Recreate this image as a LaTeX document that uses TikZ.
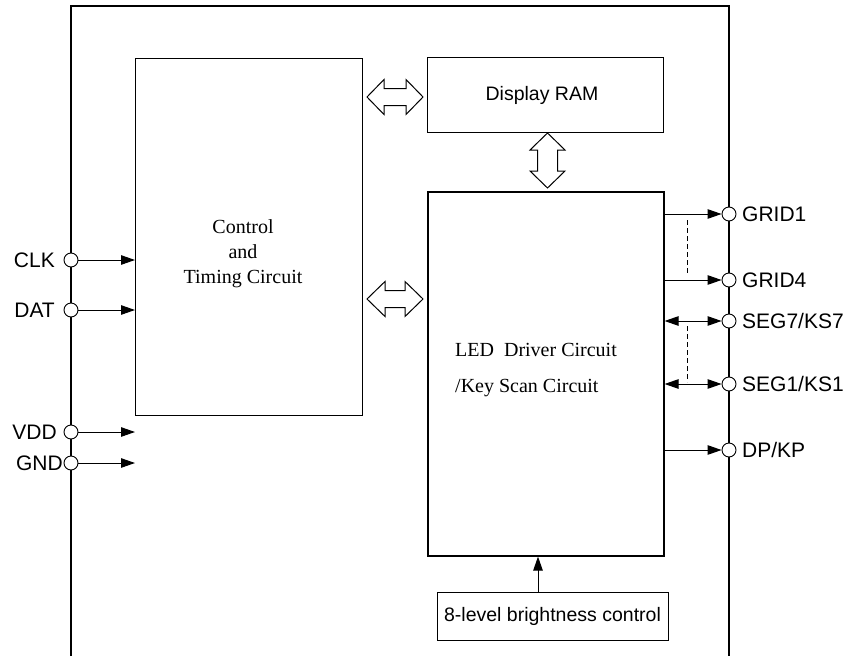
\documentclass[tikz,border=0pt]{standalone}
\usepackage{fontspec}
\newfontfamily\sansf{Liberation Sans}
\newfontfamily\seriff{Liberation Serif}
\usetikzlibrary{arrows.meta}
\tikzset{
  blockbox/.style={draw, line width=1pt, inner sep=0pt, anchor=north west},
  sig/.style={line width=1pt, -{Triangle[length=14pt,width=9.5pt]}},
  sigboth/.style={line width=1pt, {Triangle[length=14pt,width=9.5pt]}-{Triangle[length=14pt,width=9.5pt]}},
  pincirc/.style={circle, draw, fill=white, line width=0.9pt, minimum size=14pt, inner sep=0pt},
  pinlabel/.style={inner sep=0pt, font=\sansf\fontsize{21}{24}\selectfont},
  boxlabel/.style={inner sep=0pt, font=\sansf\fontsize{19.5}{22}\selectfont},
  serifl/.style={inner sep=0pt, font=\seriff\fontsize{20}{25}\selectfont},
  hollow/.style={draw, line width=1pt, fill=white, line join=miter},
  dashline/.style={line width=1pt, dash pattern=on 5pt off 3pt}
}
\begin{document}
\begin{tikzpicture}[x=1pt,y=-1pt]
\useasboundingbox (0,0) rectangle (851,656);
% chip frame
\draw[line width=1.2pt] (71,656) -- (71,6) -- (729,6) -- (729,656);
% blocks
\node[blockbox, minimum width=227pt, minimum height=357pt] (ctl) at (135,58) {};
\node[serifl, align=center] (ctltxt) at (243,254) {Control\\ and\\ Timing Circuit};
\node[blockbox, minimum width=236pt, minimum height=75pt] (ram) at (427,57) {};
\node[boxlabel] (ramtxt) at (542,95) {Display RAM};
\node[blockbox, line width=1.6pt, minimum width=236pt, minimum height=364pt] (led) at (427,191) {};
\node[serifl, anchor=base west] (ledtxt1) at (455,356) {LED\ \ Driver Circuit};
\node[serifl, anchor=base west] (ledtxt2) at (455,392) {/Key Scan Circuit};
\node[blockbox, minimum width=231pt, minimum height=48pt] (bri) at (437,592) {};
\node[boxlabel] (britxt) at (552.5,616) {8-level brightness control};
\draw[sig] (bri.north -| 538,0) -- (led.south -| 538,0);
% hollow double arrows
\begin{scope}[shift={(395,97)}]
\draw[hollow] (-28,0) -- (-11,-17.5) -- (-11,-8.5) -- (11,-8.5) -- (11,-17.5) -- (28,0) -- (11,17.5) -- (11,8.5) -- (-11,8.5) -- (-11,17.5) -- cycle;
\end{scope}
\begin{scope}[shift={(395,299)}]
\draw[hollow] (-28,0) -- (-10,-17.5) -- (-10,-8.5) -- (10,-8.5) -- (10,-17.5) -- (28,0) -- (10,17.5) -- (10,8.5) -- (-10,8.5) -- (-10,17.5) -- cycle;
\end{scope}
\begin{scope}[shift={(547.5,160.5)}]
\draw[hollow] (0,-27.5) -- (-17.5,-10.5) -- (-10,-10.5) -- (-10,10.5) -- (-17.5,10.5) -- (0,27.5) -- (17.5,10.5) -- (10,10.5) -- (10,-10.5) -- (17.5,-10.5) -- cycle;
\end{scope}
% left pins
\node[pincirc] (clk) at (71,260) {};
\node[pincirc] (dat) at (71,310) {};
\node[pincirc] (vdd) at (71,432) {};
\node[pincirc] (gnd) at (71,463) {};
\node[pinlabel, anchor=east] (clkl) at (55,260) {CLK};
\node[pinlabel, anchor=east] (datl) at (55,310) {DAT};
\node[pinlabel, anchor=east] (vddl) at (57,432) {VDD};
\node[pinlabel, anchor=east] (gndl) at (63,463) {GND};
\draw[sig] (clk) -- (ctl.west |- clk);
\draw[sig] (dat) -- (ctl.west |- dat);
\coordinate (vddend) at (135,432);
\coordinate (gndend) at (135,463);
\draw[sig] (vdd) -- (vddend);
\draw[sig] (gnd) -- (gndend);
% right pins
\node[pincirc] (g1) at (729,214) {};
\node[pincirc] (g4) at (729,280) {};
\node[pincirc] (s7) at (729,321) {};
\node[pincirc] (s1) at (729,384) {};
\node[pincirc] (dp) at (729,450) {};
\draw[sig] (led.east |- g1) -- (g1);
\draw[sig] (led.east |- g4) -- (g4);
\draw[sigboth] (led.east |- s7) -- (s7);
\draw[sigboth] (led.east |- s1) -- (s1);
\draw[sig] (led.east |- dp) -- (dp);
\node[pinlabel, anchor=west] (g1l) at (742,214) {GRID1};
\node[pinlabel, anchor=west] (g4l) at (742,280) {GRID4};
\node[pinlabel, anchor=west] (s7l) at (742,321) {SEG7/KS7};
\node[pinlabel, anchor=west] (s1l) at (742,384) {SEG1/KS1};
\node[pinlabel, anchor=west] (dpl) at (742,450) {DP/KP};
% dashed continuation marks
\coordinate (da) at (687,220);
\coordinate (db) at (687,275);
\coordinate (dc) at (687,326);
\coordinate (dd) at (687,382);
\draw[dashline] (da) -- (db);
\draw[dashline] (dc) -- (dd);
\end{tikzpicture}
\end{document}
